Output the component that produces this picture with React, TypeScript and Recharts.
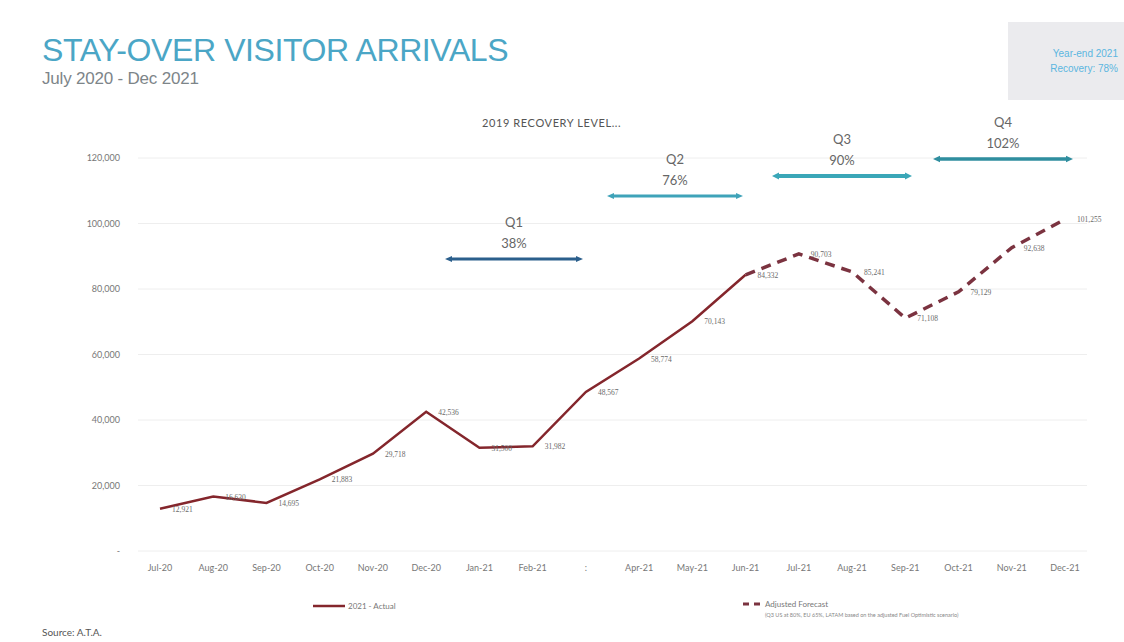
import { LineChart, Line, XAxis, YAxis, CartesianGrid, LabelList } from 'recharts';

const months = ['Jul-20', 'Aug-20', 'Sep-20', 'Oct-20', 'Nov-20', 'Dec-20', 'Jan-21', 'Feb-21', 'Mar-21', 'Apr-21', 'May-21', 'Jun-21', 'Jul-21', 'Aug-21', 'Sep-21', 'Oct-21', 'Nov-21', 'Dec-21'];
const tickLabels = ['Jul-20', 'Aug-20', 'Sep-20', 'Oct-20', 'Nov-20', 'Dec-20', 'Jan-21', 'Feb-21', ':', 'Apr-21', 'May-21', 'Jun-21', 'Jul-21', 'Aug-21', 'Sep-21', 'Oct-21', 'Nov-21', 'Dec-21'];
const actual = [12921, 16630, 14695, 21883, 29718, 42536, 31500, 31982, 48567, 58774, 70143, 84332, null, null, null, null, null, null];
const forecast = [null, null, null, null, null, null, null, null, null, null, null, 84332, 90703, 85241, 71108, 79129, 92638, 101255];
const yTicks = [0, 20000, 40000, 60000, 80000, 100000, 120000];

const quarters = [
  { q: 'Q1', pct: '38%', x1: 445, x2: 583, y: 259, color: '#2b5f8c', w: 3 },
  { q: 'Q2', pct: '76%', x1: 607, x2: 743, y: 196, color: '#3fa3b9', w: 3 },
  { q: 'Q3', pct: '90%', x1: 772, x2: 912, y: 176, color: '#3aa7b8', w: 4 },
  { q: 'Q4', pct: '102%', x1: 933, x2: 1073, y: 159, color: '#2f8e9f', w: 3.5 },
];

const rows = months.map((m, i) => ({ month: m, actual: actual[i], forecast: forecast[i] }));

const fmt = (v: number) => v.toLocaleString('en-US');

const pointLabel = (props: any) => {
  const { x, y, value, index } = props;
  if (value == null) return null;
  return (
    <text x={x + 12} y={y + 3} fontSize={7.5} fill="#6a6a6a" fontFamily="'Liberation Serif', serif" key={`l-${index}`}>
      {fmt(value)}
    </text>
  );
};

const forecastLabel = (props: any) => {
  if (props.index === 11) return null;
  return pointLabel(props);
};

export default function App() {
  return (
    <div style={{ position: 'absolute', left: 0, top: 0, width: 1124, height: 642, background: '#fff', fontFamily: "'Liberation Sans', Arial, sans-serif" }}>
      <div style={{ position: 'absolute', left: 42, top: 32, fontSize: 32, color: '#4ba6c6', whiteSpace: 'nowrap', letterSpacing: -0.4 }}>
        STAY-OVER VISITOR ARRIVALS
      </div>
      <div style={{ position: 'absolute', left: 42, top: 69, fontSize: 17, color: '#7d8589', whiteSpace: 'nowrap', letterSpacing: -0.2 }}>
        July 2020 - Dec 2021
      </div>
      <div style={{ position: 'absolute', left: 1008, top: 22, width: 116, height: 78, background: '#ebebee' }}>
        <div style={{ position: 'absolute', right: 6, top: 24, fontSize: 10, color: '#5bb6e0', textAlign: 'right', lineHeight: '15px', whiteSpace: 'nowrap' }}>
          Year-end 2021<br />Recovery: 78%
        </div>
      </div>

      <div style={{ position: 'absolute', left: 0, top: 0 }}>
        <LineChart width={1124} height={642} data={rows} margin={{ top: 158, right: 37, bottom: 61, left: 78 }}>
          <CartesianGrid vertical={false} stroke="#eeeeee" />
          <XAxis
            dataKey="month"
            scale="point"
            padding={{ left: 22, right: 22 }}
            axisLine={false}
            tickLine={false}
            tickSize={0}
            tickMargin={14}
            interval={0}
            tickFormatter={(_v: string, i: number) => tickLabels[i]}
            tick={{ fontSize: 9, fill: '#777', fontFamily: 'Lato, sans-serif' }}
          />
          <YAxis
            width={60}
            domain={[0, 120000]}
            ticks={yTicks}
            axisLine={false}
            tickLine={false}
            tickSize={0}
            tickMargin={18}
            tickFormatter={(v: number) => (v === 0 ? '-' : fmt(v))}
            tick={{ fontSize: 9, fill: '#777', fontFamily: 'Lato, sans-serif' }}
          />
          <Line
            dataKey="actual"
            stroke="#84262c"
            strokeWidth={2.5}
            dot={false}
            isAnimationActive={false}
            connectNulls={false}
          >
            <LabelList dataKey="actual" content={pointLabel} />
          </Line>
          <Line
            dataKey="forecast"
            stroke="#7b3340"
            strokeWidth={3.5}
            strokeDasharray="10 7"
            dot={false}
            isAnimationActive={false}
            connectNulls={false}
          >
            <LabelList dataKey="forecast" content={forecastLabel} />
          </Line>
        </LineChart>
      </div>

      <svg width={1124} height={642} style={{ position: 'absolute', left: 0, top: 0, pointerEvents: 'none' }}>
        <text x={482} y={127} fontSize={11} fill="#555" fontFamily="Lato, sans-serif" letterSpacing={0.6}>
          2019 RECOVERY LEVEL...
        </text>
        {quarters.map((d) => {
          const cx = (d.x1 + d.x2) / 2;
          const h = d.w + 3;
          return (
            <g key={d.q}>
              <text x={cx} y={d.y - 32} fontSize={13} fill="#666" textAnchor="middle" fontFamily="Lato, sans-serif">{d.q}</text>
              <text x={cx} y={d.y - 11} fontSize={13} fill="#666" textAnchor="middle" fontFamily="Lato, sans-serif">{d.pct}</text>
              <line x1={d.x1 + 5} x2={d.x2 - 5} y1={d.y} y2={d.y} stroke={d.color} strokeWidth={d.w} />
              <polygon points={`${d.x1},${d.y} ${d.x1 + 7},${d.y - h / 2} ${d.x1 + 7},${d.y + h / 2}`} fill={d.color} />
              <polygon points={`${d.x2},${d.y} ${d.x2 - 7},${d.y - h / 2} ${d.x2 - 7},${d.y + h / 2}`} fill={d.color} />
            </g>
          );
        })}

        <line x1={313} x2={345} y1={606} y2={606} stroke="#84262c" strokeWidth={2.5} />
        <text x={348} y={609} fontSize={8} fill="#777" fontFamily="Lato, sans-serif">2021 - Actual</text>
        <line x1={743} x2={762} y1={604} y2={604} stroke="#7b3340" strokeWidth={3} strokeDasharray="6 5" />
        <text x={765} y={607} fontSize={8} fill="#777" fontFamily="Lato, sans-serif">Adjusted Forecast</text>
        <text x={765} y={617} fontSize={5.5} fill="#888" fontFamily="Lato, sans-serif">
          (Q3 US at 80%, EU 65%, LATAM based on the adjusted Fuel Optimistic scenario)
        </text>
        <text x={42} y={636} fontSize={10} fill="#555" fontFamily="Lato, sans-serif">Source: A.T.A.</text>
      </svg>
    </div>
  );
}
